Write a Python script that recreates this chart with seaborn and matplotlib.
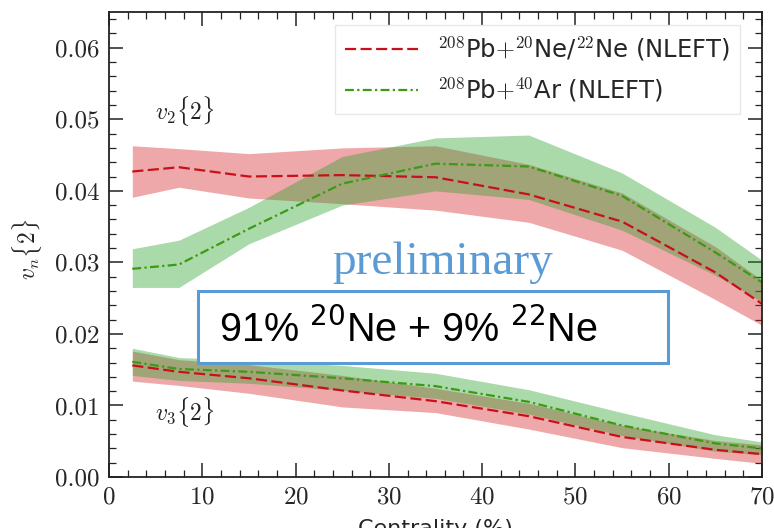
import numpy as np
import pandas as pd
import matplotlib.pyplot as plt
import matplotlib.patches as mpatches
from matplotlib.ticker import MultipleLocator
import seaborn as sns

# centrality bins (midpoints)
cent = [2.5, 7.5, 15, 25, 35, 45, 55, 65, 70]

# Pb+Ne (NLEFT)
ne_v2 = [0.0427, 0.0433, 0.0420, 0.0422, 0.0419, 0.0395, 0.0357, 0.0286, 0.0242]
ne_v2_lo = [0.0391, 0.0405, 0.0390, 0.0382, 0.0373, 0.0356, 0.0317, 0.0248, 0.0212]
ne_v2_hi = [0.0463, 0.0459, 0.0452, 0.0460, 0.0463, 0.0437, 0.0397, 0.0322, 0.0275]
ne_v3 = [0.0156, 0.0147, 0.0138, 0.0121, 0.0106, 0.0085, 0.0056, 0.0038, 0.0032]
ne_v3_lo = [0.0134, 0.0128, 0.0117, 0.0098, 0.0090, 0.0067, 0.0041, 0.0026, 0.0019]
ne_v3_hi = [0.0176, 0.0164, 0.0157, 0.0142, 0.0124, 0.0103, 0.0072, 0.0051, 0.0045]

# Pb+Ar (NLEFT)
ar_v2 = [0.0291, 0.0297, 0.0347, 0.0410, 0.0438, 0.0434, 0.0393, 0.0314, 0.0272]
ar_v2_lo = [0.0265, 0.0265, 0.0326, 0.0380, 0.0400, 0.0388, 0.0345, 0.0282, 0.0245]
ar_v2_hi = [0.0319, 0.0331, 0.0377, 0.0448, 0.0474, 0.0478, 0.0425, 0.0349, 0.0303]
ar_v3 = [0.0161, 0.0151, 0.0147, 0.0138, 0.0127, 0.0105, 0.0072, 0.0047, 0.0040]
ar_v3_lo = [0.0142, 0.0135, 0.0131, 0.0121, 0.0110, 0.0088, 0.0058, 0.0036, 0.0031]
ar_v3_hi = [0.0180, 0.0167, 0.0163, 0.0156, 0.0145, 0.0122, 0.0090, 0.0059, 0.0049]

lab_ne = r'$^{208}$Pb$+^{20}$Ne/$^{22}$Ne (NLEFT)'
lab_ar = r'$^{208}$Pb$+^{40}$Ar (NLEFT)'

sns.set_theme(style='ticks')
plt.rcParams['font.family'] = 'serif'
plt.rcParams['font.serif'] = ['cmr10']
plt.rcParams['mathtext.fontset'] = 'cm'
plt.rcParams['axes.formatter.use_mathtext'] = True

red = '#c8101a'
green = '#3c9a14'
red_fill = '#d62728'
green_fill = '#2ca02c'

df = pd.DataFrame({'cent': cent, 'ne_v2': ne_v2, 'ne_v3': ne_v3,
                   'ar_v2': ar_v2, 'ar_v3': ar_v3})

fig = plt.figure(figsize=(7.74, 5.28), dpi=100)
ax = fig.add_axes([0.1408, 0.0966, 0.8437, 0.8807])

# bands
ax.fill_between(cent, ne_v2_lo, ne_v2_hi, color=red_fill, alpha=0.4, lw=0)
ax.fill_between(cent, ne_v3_lo, ne_v3_hi, color=red_fill, alpha=0.4, lw=0)
ax.fill_between(cent, ar_v2_lo, ar_v2_hi, color=green_fill, alpha=0.4, lw=0)
ax.fill_between(cent, ar_v3_lo, ar_v3_hi, color=green_fill, alpha=0.4, lw=0)

# lines
sns.lineplot(data=df, x='cent', y='ne_v2', ax=ax, color=red, lw=1.6,
             label=lab_ne).lines[-1].set_dashes((5, 2))
sns.lineplot(data=df, x='cent', y='ar_v2', ax=ax, color=green, lw=1.6,
             label=lab_ar).lines[-1].set_dashes((4, 1.5, 1, 1.5))
sns.lineplot(data=df, x='cent', y='ne_v3', ax=ax, color=red, lw=1.6,
             legend=False).lines[-1].set_dashes((5, 2))
sns.lineplot(data=df, x='cent', y='ar_v3', ax=ax, color=green, lw=1.6,
             legend=False).lines[-1].set_dashes((4, 1.5, 1, 1.5))

ax.set_xlim(0, 70)
ax.set_ylim(0, 0.065)
ax.xaxis.set_major_locator(MultipleLocator(10))
ax.xaxis.set_minor_locator(MultipleLocator(2))
ax.yaxis.set_major_locator(MultipleLocator(0.01))
ax.yaxis.set_minor_locator(MultipleLocator(0.002))
ax.yaxis.set_major_formatter(plt.FuncFormatter(lambda v, p: f'{v:.2f}'))
ax.tick_params(which='both', direction='in', top=True, right=True,
               labelsize=18, color='#222222')
ax.tick_params(which='major', length=10, width=1.1, pad=7)
ax.tick_params(which='minor', length=5, width=0.9)
for s in ax.spines.values():
    s.set_color('#222222')
    s.set_linewidth(1.3)

ax.set_xlabel('Centrality (%)', fontsize=16, family='DejaVu Sans', labelpad=7)
ax.set_ylabel(r'$v_n\{2\}$', fontsize=17)
ax.yaxis.set_label_coords(-0.1, 0.49)

leg = ax.legend(loc='upper right', prop={'family': 'DejaVu Sans', 'size': 17.5},
                handlelength=3.0, handletextpad=0.8, frameon=True,
                framealpha=0.9, edgecolor='#e6e6e6', fancybox=False,
                borderpad=0.4, labelspacing=0.55,
                bbox_to_anchor=(0.985, 0.999))

ax.text(0.07, 0.768, r'$v_2\{2\}$', transform=ax.transAxes, fontsize=17,
        va='baseline', color='#222222')
ax.text(0.07, 0.12, r'$v_3\{2\}$', transform=ax.transAxes, fontsize=17,
        va='baseline', color='#222222')

ax.text(0.511, 0.437, 'preliminary', transform=ax.transAxes, fontsize=34,
        family='Liberation Serif', color='#5b9bd5', ha='center', va='baseline')

box = mpatches.Rectangle((0.136, 0.245), 0.72, 0.155, transform=ax.transAxes,
                         facecolor='white', edgecolor='#5b9bd5', lw=2.2,
                         zorder=5)
ax.add_patch(box)
ax.text(0.168, 0.290, r'91% $^{20}$Ne + 9% $^{22}$Ne', transform=ax.transAxes,
        fontsize=28.5, family='Liberation Sans', va='baseline', zorder=6,
        color='black', math_fontfamily='dejavusans')

fig.savefig('out.png', dpi=100)
